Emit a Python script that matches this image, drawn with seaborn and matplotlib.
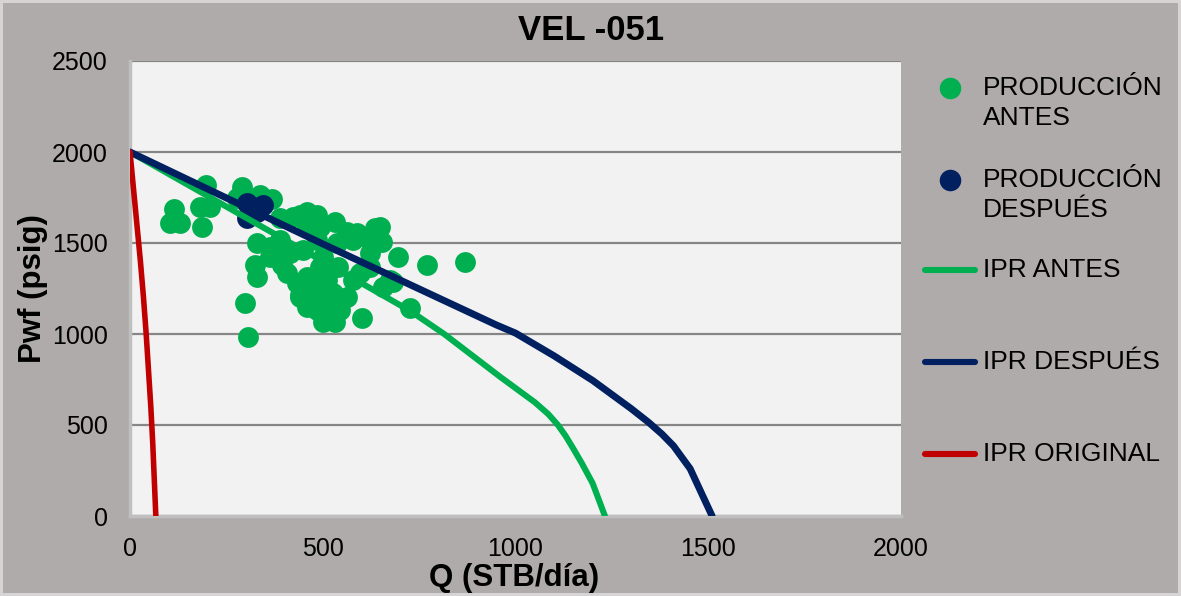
import numpy as np
import pandas as pd
import matplotlib
matplotlib.use('Agg')
import matplotlib.pyplot as plt
from matplotlib.lines import Line2D
import seaborn as sns

# scatter: production before / after
antes_q = [104, 114, 130, 187, 197, 182, 207, 291, 278, 337, 368, 389, 441, 459, 485,
           532, 563, 589, 636, 641, 623, 623, 695, 770, 869, 726, 682, 602, 500, 532,
           441, 329, 324, 329, 298, 306, 363, 389, 381, 394, 415, 449, 485, 459, 493,
           511, 527, 493, 563, 545, 485, 459, 579, 540, 501, 459, 493, 423, 407, 623,
           579, 537, 675, 656, 597, 649, 654, 363, 433, 441, 510, 520, 470, 505]
antes_p = [1610, 1687, 1610, 1588, 1819, 1698, 1698, 1808, 1747, 1764, 1742, 1637, 1654, 1670, 1654,
           1615, 1560, 1555, 1582, 1505, 1445, 1368, 1423, 1379, 1396, 1143, 1286, 1088, 1066, 1066,
           1214, 1500, 1379, 1313, 1170, 984, 1478, 1516, 1418, 1379, 1445, 1462, 1516, 1313, 1368,
           1297, 1225, 1187, 1203, 1132, 1132, 1148, 1297, 1368, 1423, 1588, 1588, 1643, 1335, 1516,
           1516, 1500, 1297, 1258, 1335, 1588, 1505, 1423, 1280, 1203, 1250, 1170, 1250, 1100]
despues_q = [303, 345, 329, 303, 318, 335]
despues_p = [1720, 1709, 1670, 1637, 1690, 1700]

# IPR curves
ipr_antes_q = [0, 300, 600, 726, 815, 960, 1050, 1085, 1110, 1130, 1150, 1172, 1200, 1232]
ipr_antes_p = [2000, 1640, 1280, 1128, 1000, 765, 625, 560, 500, 440, 370, 290, 180, 0]
ipr_desp_q = [0, 500, 950, 1000, 1100, 1200, 1300, 1345, 1380, 1410, 1453, 1510]
ipr_desp_p = [2000, 1495, 1050, 1005, 880, 745, 590, 515, 450, 385, 260, 0]
ipr_orig_q = [0, 9, 18, 27, 35, 42, 48, 54, 59, 63, 67]
ipr_orig_p = [2000, 1800, 1600, 1400, 1200, 1000, 800, 600, 400, 200, 0]

x_ticks = [0, 500, 1000, 1500, 2000]
y_ticks = [0, 500, 1000, 1500, 2000, 2500]

GREEN = '#00B050'
NAVY = '#002060'
RED = '#C00000'
BG = '#AFABAB'

sns.set_theme(style='white')
plt.rcParams['font.family'] = ['Liberation Sans', 'DejaVu Sans']
plt.rcParams['text.color'] = 'black'

W, H = 1181, 596
fig = plt.figure(figsize=(W / 100, H / 100), dpi=100, facecolor=BG)
fig.patch.set_edgecolor('#D6D4D4')
fig.patch.set_linewidth(3)
ax = fig.add_axes([130 / W, 1 - 516 / H, 771 / W, 455 / H])
ax.set_facecolor('#F2F2F2')

sc_antes = pd.DataFrame({'q': antes_q, 'p': antes_p})
sc_desp = pd.DataFrame({'q': despues_q, 'p': despues_p})
sns.scatterplot(data=sc_antes, x='q', y='p', color=GREEN, s=225, linewidth=0, ax=ax, zorder=3)
sns.scatterplot(data=sc_desp, x='q', y='p', color=NAVY, s=225, linewidth=0, ax=ax, zorder=4)

for qq, pp, col, lw, z in [(ipr_antes_q, ipr_antes_p, GREEN, 4.4, 5),
                           (ipr_desp_q, ipr_desp_p, NAVY, 5.0, 6),
                           (ipr_orig_q, ipr_orig_p, RED, 4.0, 7)]:
    sns.lineplot(x=qq, y=pp, color=col, linewidth=lw, sort=False, estimator=None,
                 ax=ax, zorder=z, solid_capstyle='round', solid_joinstyle='round')

ax.set_xlim(0, 2000)
ax.set_ylim(0, 2500)
ax.set_xticks(x_ticks)
ax.set_yticks(y_ticks)
ax.yaxis.grid(True, color='#868686', linewidth=1.6)
ax.xaxis.grid(False)
ax.set_axisbelow(True)
for side in ['top', 'right']:
    ax.spines[side].set_visible(False)
for side in ['left', 'bottom']:
    ax.spines[side].set_color('#BFBFBF')
    ax.spines[side].set_linewidth(2.5)
    ax.spines[side].set_zorder(1)
ax.tick_params(axis='both', length=0, labelsize=18, colors='black')
ax.tick_params(axis='y', pad=16)
ax.tick_params(axis='x', pad=15)
ax.set_xlabel('')
ax.set_ylabel('')

fig.text(514 / W, 1 - 578 / H, 'Q (STB/día)', fontsize=22.5, fontweight='bold',
         ha='center', va='center', color='black')
fig.text(33 / W, 1 - 289 / H, 'Pwf (psig)', fontsize=22.5, fontweight='bold',
         ha='center', va='center', rotation=90, color='black')
fig.text(591 / W, 1 - 31 / H, 'VEL -051', fontsize=25, fontweight='bold',
         ha='center', va='center', color='black')

# legend, drawn by hand so the markers sit on the first text line
legend_items = [
    ('marker', GREEN, ['PRODUCCIÓN', 'ANTES'], 88),
    ('marker', NAVY, ['PRODUCCIÓN', 'DESPUÉS'], 180),
    ('line', GREEN, ['IPR ANTES'], 270),
    ('line', NAVY, ['IPR DESPUÉS'], 362),
    ('line', RED, ['IPR ORIGINAL'], 454),
]
for kind, col, lines, yc in legend_items:
    if kind == 'marker':
        fig.add_artist(Line2D([950 / W], [1 - yc / H], marker='o', markersize=15.5,
                              color=col, markeredgewidth=0, linestyle='none'))
    else:
        fig.add_artist(Line2D([925 / W, 975 / W], [1 - yc / H, 1 - yc / H], color=col,
                              linewidth=4.4, solid_capstyle='round'))
    for i, txt in enumerate(lines):
        fig.text(983 / W, 1 - (yc + 30 * i) / H, txt, fontsize=19,
                 ha='left', va='center', color='black')

fig.savefig('out.png', dpi=100, facecolor=BG)
